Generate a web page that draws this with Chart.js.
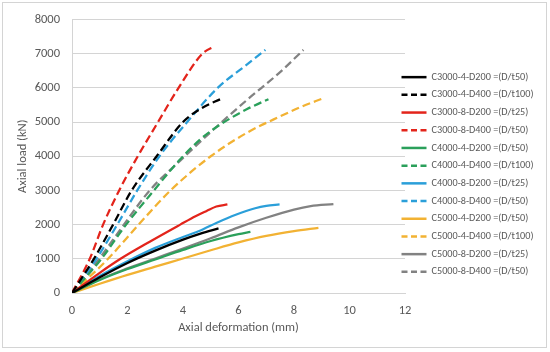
<!DOCTYPE html>
<html>
<head>
<meta charset="utf-8">
<script src="https://cdn.jsdelivr.net/npm/chart.js@4.4.1/dist/chart.umd.min.js"></script>
<style>
  body { margin: 0; background: #fff; }
  #wrap { position: relative; width: 550px; height: 352px; }
  #frame { position: absolute; left: 2px; top: 2px; width: 543px; height: 344px; border: 1px solid #d4d4d4; pointer-events: none; }
</style>
</head>
<body>
<div id="wrap">
  <canvas id="lineChart" width="550" height="352"></canvas>
  <div id="frame"></div>
</div>
<script>
// [deformation (mm), load (kN)]
const C3000_4_D200 = [[0,0],[1,460],[2,880],[3,1240],[4,1560],[4.63,1735],[5.28,1890]];
const C3000_4_D400 = [[0,0],[0.79,1000],[1.48,2000],[2.15,3000],[3.05,4000],[4.0,5000],[4.7,5420],[5.35,5670]];
const C3000_8_D200 = [[0,0],[1,590],[1.75,1000],[2.8,1500],[3.9,2000],[4.45,2245],[4.85,2400],[5.2,2530],[5.6,2590]];
const C3000_8_D400 = [[0,0],[0.64,1000],[1.12,2000],[1.7,3000],[2.37,4000],[3.1,5000],[3.84,6000],[4.7,7000],[5.15,7220]];
const C4000_4_D200 = [[0,0],[1,380],[2,700],[3,980],[4,1260],[5,1520],[6,1720],[6.43,1790]];
const C4000_4_D400 = [[0,0],[1.06,1000],[1.95,2000],[2.95,3000],[3.91,3920],[4.63,4500],[5.35,4930],[6.31,5380],[7.08,5670]];
const C4000_8_D200 = [[0,0],[1,500],[2,930],[3,1320],[4,1640],[4.63,1830],[5.2,2050],[5.9,2290],[6.6,2480],[7.0,2550],[7.48,2590]];
const C4000_8_D400 = [[0,0],[0.88,1000],[1.63,2000],[2.35,3000],[3.15,4000],[4.15,5000],[5.25,6000],[6.25,6650],[6.97,7110]];
const C5000_4_D200 = [[0,0],[1,270],[2,530],[3,770],[4,1010],[5,1250],[6,1480],[7,1670],[8,1810],[8.88,1905]];
const C5000_4_D400 = [[0,0],[1.3,1000],[2.4,2000],[3.55,3000],[5.0,4000],[6.31,4690],[7.51,5170],[8.3,5460],[9.07,5700]];
const C5000_8_D200 = [[0,0],[1,400],[2,720],[3,1010],[4,1300],[5,1600],[6,1920],[7,2200],[8,2440],[8.6,2540],[9.42,2600]];
const C5000_8_D400 = [[0,0],[0.98,1000],[1.87,2000],[2.8,3000],[3.91,3880],[5.11,4790],[6.31,5650],[7.51,6470],[8.34,7110]];

const seriesNames = [
  'C3000-4-D200 =(D/t50)', 'C3000-4-D400 =(D/t100)',
  'C3000-8-D200 =(D/t25)', 'C3000-8-D400 =(D/t50)',
  'C4000-4-D200 =(D/t50)', 'C4000-4-D400 =(D/t100)',
  'C4000-8-D200 =(D/t25)', 'C4000-8-D400 =(D/t50)',
  'C5000-4-D200 =(D/t50)', 'C5000-4-D400 =(D/t100)',
  'C5000-8-D200 =(D/t25)', 'C5000-8-D400 =(D/t50)'
];
const seriesData = [
  C3000_4_D200, C3000_4_D400, C3000_8_D200, C3000_8_D400,
  C4000_4_D200, C4000_4_D400, C4000_8_D200, C4000_8_D400,
  C5000_4_D200, C5000_4_D400, C5000_8_D200, C5000_8_D400
];
const xTicks = [0, 2, 4, 6, 8, 10, 12];
const yTicks = [0, 1000, 2000, 3000, 4000, 5000, 6000, 7000, 8000];

const colours = ['#000000', '#e3241b', '#2ba05b', '#2b9fd9', '#f2b233', '#828282'];

const FONT = "Carlito, Calibri, Lato, 'Open Sans', sans-serif";
const GREY_TEXT = '#595959';

let datasets = seriesData.map(function (pts, i) {
  let dashed = i % 2 === 1;
  return {
    label: seriesNames[i],
    data: pts.map(p => ({ x: p[0], y: p[1] })),
    borderColor: colours[Math.floor(i / 2)],
    backgroundColor: colours[Math.floor(i / 2)],
    borderWidth: 2.25,
    borderDash: dashed ? [8, 4] : [],
    pointRadius: 0,
    cubicInterpolationMode: 'monotone',
    fill: false
  };
});

// nudge the legend so it sits where the original has it
const legendNudge = {
  id: 'legendNudge',
  afterLayout(chart) {
    let lg = chart.legend;
    lg.left -= 11; lg.right -= 11;
    lg.top -= 4; lg.bottom -= 4;
  }
};

let CHART = document.getElementById('lineChart');

new Chart(CHART, {
  type: 'line',
  data: { datasets: datasets },
  plugins: [legendNudge],
  options: {
    responsive: false,
    animation: false,
    layout: { padding: { left: 0, top: 15, right: 0, bottom: 10 } },
    plugins: {
      tooltip: { enabled: false },
      legend: {
        position: 'right',
        align: 'center',
        maxWidth: 145,
        labels: {
          usePointStyle: true,
          pointStyle: 'line',
          pointStyleWidth: 25,
          padding: 7.5,
          color: GREY_TEXT,
          font: { family: FONT, size: 10.2 },
          generateLabels(chart) {
            let items = Chart.defaults.plugins.legend.labels.generateLabels(chart);
            items.forEach(function (it, i) {
              it.lineDash = i % 2 === 1 ? [6, 3.5] : [];
              it.lineWidth = 2.5;
            });
            return items;
          }
        }
      }
    },
    scales: {
      x: {
        type: 'linear',
        min: 0,
        max: 12,
        afterBuildTicks(scale) { scale.ticks = xTicks.map(v => ({ value: v })); },
        afterFit(scale) { scale.height = 49; },
        grid: { display: false, drawTicks: false },
        border: { display: true, color: '#d4d4d4', width: 1 },
        ticks: { color: GREY_TEXT, font: { family: FONT, size: 12.5 }, padding: 10, callback: v => String(v) },
        title: {
          display: true,
          text: 'Axial deformation (mm)',
          color: GREY_TEXT,
          font: { family: FONT, size: 12.5 },
          padding: { top: 0, bottom: 7 }
        }
      },
      y: {
        type: 'linear',
        min: 0,
        max: 8000,
        afterBuildTicks(scale) { scale.ticks = yTicks.map(v => ({ value: v })); },
        afterFit(scale) { scale.width = 72; },
        grid: { color: '#d4d4d4', lineWidth: 1, drawTicks: false },
        border: { display: true, color: '#d4d4d4', width: 1 },
        ticks: { color: GREY_TEXT, font: { family: FONT, size: 12.5 }, padding: 12, callback: v => String(v) },
        title: {
          display: true,
          text: 'Axial load (kN)',
          color: GREY_TEXT,
          font: { family: FONT, size: 12.5 },
          padding: { top: 15, bottom: 0 }
        }
      }
    }
  }
});
</script>
</body>
</html>
